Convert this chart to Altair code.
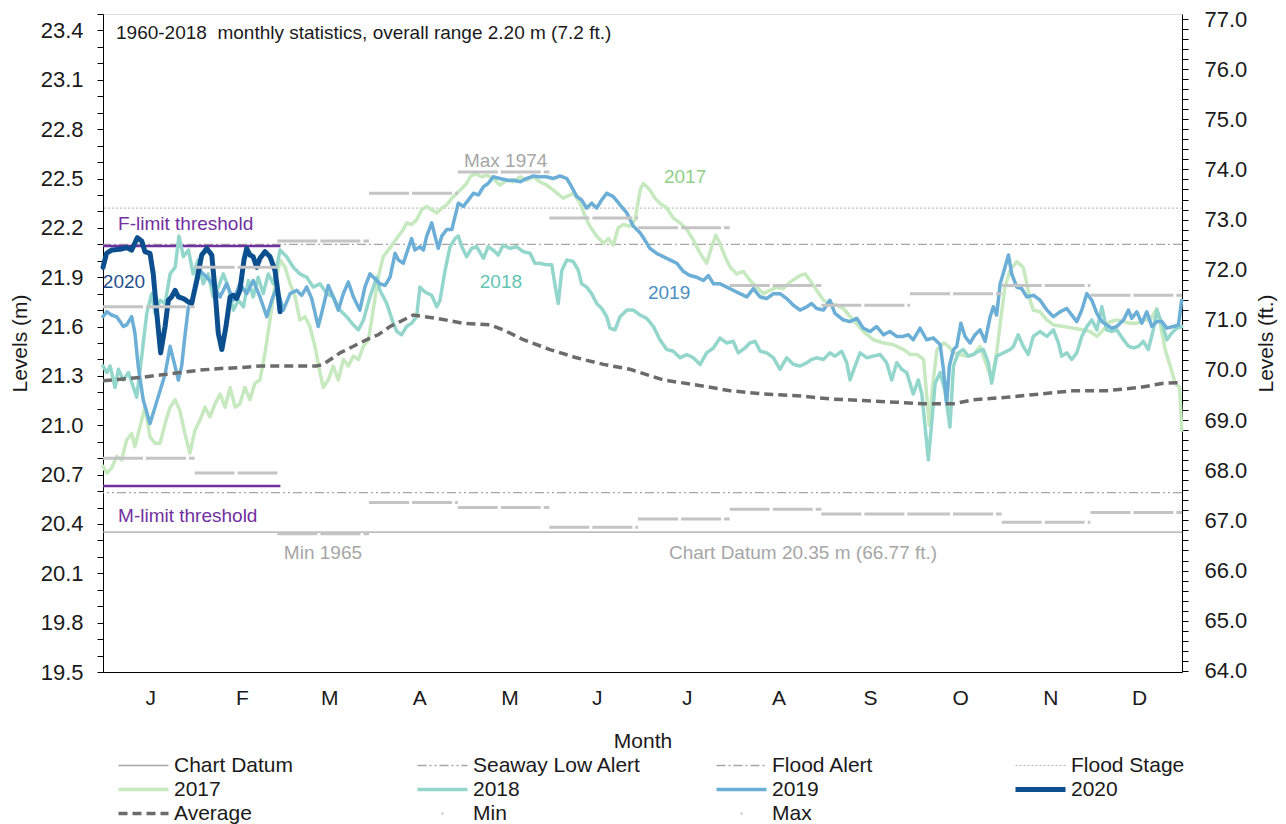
import altair as alt
import pandas as pd

# ---------------- data ----------------
month_letters = ["J", "F", "M", "A", "M", "J", "J", "A", "S", "O", "N", "D"]
month_label_days = [16, 47, 76.5, 107, 137.5, 167, 197.5, 228.5, 259.5, 290, 320.5, 350.5]
month_start = [0, 31, 59, 90, 120, 151, 181, 212, 243, 273, 304, 334]
month_end = [31, 59, 90, 120, 151, 181, 212, 243, 273, 304, 334, 365]
month_max = [21.72, 21.96, 22.12, 22.41, 22.54, 22.26, 22.20, 21.85, 21.73, 21.80, 21.85, 21.79]
month_min = [20.80, 20.71, 20.34, 20.53, 20.50, 20.38, 20.43, 20.49, 20.46, 20.46, 20.41, 20.47]

ref_names = ["Chart Datum", "Seaway Low Alert", "Flood Alert", "Flood Stage"]
ref_levels = [20.35, 20.59, 22.10, 22.32]

threshold_levels = [22.09, 20.63]
threshold_days = [0, 60]

s2017 = [(0, 20.75), (1.3, 20.71), (2.9, 20.74), (4.6, 20.81), (6.3, 20.79), (8.0, 20.91), (9.7, 20.95),
         (10.8, 20.87), (12.5, 20.99), (14.2, 21.11), (15.9, 20.93), (17.6, 20.89), (19.3, 20.89),
         (21.0, 21.01), (22.7, 21.11), (24.4, 21.155), (26.0, 21.09), (27.7, 20.95), (29.4, 20.83),
         (31.1, 20.97), (32.8, 21.03), (34.5, 21.11), (36.2, 21.05), (37.9, 21.13), (39.6, 21.19),
         (41.3, 21.11), (43.0, 21.23), (44.7, 21.11), (46.3, 21.13), (48.0, 21.23), (49.7, 21.155),
         (51.4, 21.255), (53.1, 21.275), (54.8, 21.44), (56.5, 21.64), (58.2, 21.86), (59.9, 22.005),
         (61.6, 21.96), (63.3, 21.86), (65.0, 21.78), (66.6, 21.64), (68.3, 21.66), (70.0, 21.60),
         (71.7, 21.48), (73.4, 21.32), (74.5, 21.23), (76.2, 21.275), (77.9, 21.36), (79.6, 21.275),
         (81.3, 21.40), (83.0, 21.36), (84.7, 21.42), (86.4, 21.40), (88.1, 21.48), (89.8, 21.52),
         (91.4, 21.70), (93.1, 21.90), (94.8, 22.025), (96.5, 22.065), (98.2, 22.105), (99.9, 22.15),
         (101.6, 22.19), (102.7, 22.23), (104.4, 22.22), (106.1, 22.25), (107.8, 22.31), (109.5, 22.33),
         (111.2, 22.31), (112.9, 22.29), (114.6, 22.32), (116.3, 22.34), (118.0, 22.38), (119.7, 22.41),
         (121.4, 22.44), (123.0, 22.47), (124.2, 22.51), (125.8, 22.53), (128.1, 22.51), (129.8, 22.52),
         (132.0, 22.50), (134.3, 22.46), (136.6, 22.49), (138.8, 22.48), (141.1, 22.51), (143.3, 22.49),
         (145.6, 22.51), (147.8, 22.48), (150.1, 22.46), (152.3, 22.43), (155.7, 22.38), (159.1, 22.41),
         (161.4, 22.35), (163.1, 22.27), (164.7, 22.21), (167.0, 22.15), (169.3, 22.105), (170.9, 22.135),
         (172.6, 22.095), (174.3, 22.20), (176.0, 22.22), (178.3, 22.21), (180.0, 22.25), (181.7, 22.43),
         (182.8, 22.47), (185.0, 22.43), (186.7, 22.38), (188.4, 22.35), (190.7, 22.32), (192.9, 22.26),
         (195.2, 22.23), (197.5, 22.19), (199.7, 22.125), (202.0, 22.045), (204.2, 21.985), (205.9, 22.085),
         (207.3, 22.155), (208.7, 22.105), (210.4, 22.025), (212.2, 21.96), (214.4, 21.92), (216.6, 21.935),
         (218.9, 21.88), (221.1, 21.84), (223.4, 21.80), (225.6, 21.82), (227.9, 21.84), (230.1, 21.83),
         (232.4, 21.87), (234.1, 21.89), (235.8, 21.91), (237.5, 21.92), (239.2, 21.88), (241.4, 21.82),
         (243.7, 21.76), (245.9, 21.74), (248.2, 21.73), (250.4, 21.71), (253.8, 21.64), (257.2, 21.57),
         (260.6, 21.52), (264.0, 21.50), (267.3, 21.49), (270.8, 21.46), (273.1, 21.43), (275.4, 21.43),
         (277.6, 21.40), (279.5, 21.00), (280.6, 21.23), (282.1, 21.46), (284.4, 21.50), (286.0, 21.48),
         (287.7, 21.44), (290.0, 21.43), (292.2, 21.42), (294.5, 21.43), (296.7, 21.48), (299.0, 21.36),
         (300.6, 21.275), (302.3, 21.44), (303.5, 21.62), (305.1, 21.84), (306.8, 21.94), (309.1, 21.995),
         (311.3, 21.96), (312.5, 21.86), (313.6, 21.76), (314.7, 21.70), (317.0, 21.69), (319.3, 21.64),
         (321.5, 21.61), (324.9, 21.60), (328.3, 21.59), (331.6, 21.58), (333.9, 21.57), (336.2, 21.54),
         (338.4, 21.58), (340.7, 21.63), (342.9, 21.64), (345.2, 21.63), (347.4, 21.62), (349.7, 21.62),
         (351.9, 21.64), (354.2, 21.64), (356.5, 21.71), (357.6, 21.62), (359.3, 21.46), (361.0, 21.36),
         (362.7, 21.255), (364.2, 21.23), (364.9, 20.97)]

s2018 = [(0, 21.36), (1.3, 21.32), (2.4, 21.36), (4.1, 21.23), (5.2, 21.34), (6.9, 21.275), (8.6, 21.32),
         (10.3, 21.23), (11.4, 21.17), (13.1, 21.42), (14.8, 21.68), (16.5, 21.80), (17.6, 21.68),
         (19.3, 21.76), (21.0, 21.74), (22.7, 21.92), (24.4, 21.96), (25.7, 22.15), (27.2, 22.025),
         (28.9, 22.065), (30.5, 21.92), (32.2, 22.005), (33.9, 21.86), (35.6, 21.92), (37.3, 21.78),
         (39.0, 21.84), (40.7, 21.92), (42.4, 21.84), (44.1, 21.70), (45.8, 21.76), (47.5, 21.72),
         (49.2, 21.88), (50.8, 21.78), (52.5, 21.90), (54.2, 21.80), (55.9, 21.92), (57.6, 21.86),
         (59.9, 22.065), (62.1, 22.025), (64.4, 21.96), (66.6, 21.92), (68.9, 21.90), (71.1, 21.84),
         (73.4, 21.86), (75.7, 21.80), (77.9, 21.78), (80.2, 21.70), (82.4, 21.66), (84.7, 21.61),
         (86.4, 21.58), (88.1, 21.64), (90.3, 21.78), (92.6, 21.90), (93.7, 21.82), (96.0, 21.74),
         (98.2, 21.62), (99.4, 21.57), (101.0, 21.55), (102.7, 21.60), (104.4, 21.62), (106.1, 21.66),
         (107.2, 21.84), (108.9, 21.81), (111.2, 21.79), (112.9, 21.72), (114.0, 21.76), (115.7, 21.94),
         (117.4, 22.085), (119.1, 22.135), (120.2, 22.15), (121.4, 22.085), (123.0, 22.025), (124.7, 22.075),
         (126.4, 22.085), (128.7, 22.015), (130.3, 22.085), (132.0, 22.065), (133.7, 22.035), (135.4, 22.095),
         (137.7, 22.075), (139.9, 22.085), (142.2, 22.055), (144.5, 22.045), (146.1, 21.985), (147.8, 21.985),
         (150.1, 21.975), (151.8, 21.975), (153.2, 21.82), (154.0, 21.74), (155.2, 21.94), (156.9, 22.005),
         (159.1, 21.995), (160.8, 21.94), (161.9, 21.86), (163.6, 21.84), (165.3, 21.80), (167.0, 21.74),
         (168.7, 21.71), (170.4, 21.66), (171.5, 21.59), (173.2, 21.58), (174.9, 21.66), (177.2, 21.70),
         (179.4, 21.70), (181.7, 21.67), (183.9, 21.65), (186.2, 21.60), (188.4, 21.52), (190.7, 21.46),
         (192.9, 21.45), (195.2, 21.41), (197.5, 21.43), (199.7, 21.41), (202.0, 21.37), (204.2, 21.44),
         (206.5, 21.47), (208.7, 21.53), (211.0, 21.50), (213.2, 21.51), (214.9, 21.44), (217.2, 21.47),
         (218.8, 21.50), (220.6, 21.51), (222.3, 21.45), (224.5, 21.44), (226.8, 21.41), (229.0, 21.34),
         (231.3, 21.41), (233.5, 21.37), (235.8, 21.36), (238.1, 21.38), (239.7, 21.40), (241.4, 21.41),
         (243.7, 21.40), (245.9, 21.44), (247.6, 21.42), (249.9, 21.45), (251.6, 21.38), (252.7, 21.275),
         (254.4, 21.36), (256.1, 21.44), (258.4, 21.41), (260.6, 21.42), (262.9, 21.43), (265.1, 21.38),
         (266.8, 21.275), (268.5, 21.38), (270.2, 21.34), (271.9, 21.32), (274.1, 21.19), (275.8, 21.275),
         (277.0, 21.19), (278.1, 20.99), (279.2, 20.79), (280.4, 21.03), (281.5, 21.255), (283.2, 21.32),
         (284.8, 21.21), (286.5, 20.99), (287.7, 21.36), (289.3, 21.44), (291.0, 21.46), (292.7, 21.42),
         (294.4, 21.43), (296.1, 21.45), (297.8, 21.46), (299.5, 21.38), (300.6, 21.255), (302.3, 21.42),
         (304.6, 21.44), (306.8, 21.46), (308.0, 21.48), (309.6, 21.55), (311.3, 21.48), (313.0, 21.43),
         (314.7, 21.54), (317.0, 21.57), (319.3, 21.54), (321.5, 21.58), (323.2, 21.50), (324.3, 21.42),
         (326.0, 21.44), (327.7, 21.40), (329.4, 21.44), (331.1, 21.54), (332.8, 21.60), (334.5, 21.64),
         (336.2, 21.58), (337.9, 21.72), (339.5, 21.58), (341.2, 21.57), (342.9, 21.58), (345.2, 21.52),
         (346.9, 21.48), (348.6, 21.47), (350.3, 21.48), (351.9, 21.51), (353.6, 21.46), (355.3, 21.58),
         (356.5, 21.70), (358.2, 21.62), (359.9, 21.52), (361.5, 21.56), (363.2, 21.59), (364.9, 21.60)]

s2019 = [(0, 21.66), (1.3, 21.69), (2.9, 21.67), (4.6, 21.66), (5.8, 21.63), (6.9, 21.60), (8.0, 21.61),
         (9.7, 21.66), (10.8, 21.56), (11.9, 21.36), (13.6, 21.155), (15.9, 21.01), (17.6, 21.11),
         (19.3, 21.21), (21.0, 21.31), (22.7, 21.48), (23.8, 21.40), (25.5, 21.275), (26.6, 21.36),
         (27.7, 21.54), (28.9, 21.72), (30.5, 21.78), (32.8, 21.94), (36.2, 21.88), (39.6, 21.78),
         (41.8, 21.86), (44.1, 21.76), (46.3, 21.86), (48.6, 21.80), (50.8, 21.88), (53.1, 21.78),
         (55.4, 21.66), (57.1, 21.76), (58.8, 21.84), (61.0, 21.70), (63.3, 21.80), (65.5, 21.82),
         (67.2, 21.79), (68.9, 21.84), (70.6, 21.77), (72.8, 21.60), (74.5, 21.72), (76.2, 21.85),
         (77.9, 21.78), (79.6, 21.70), (81.3, 21.80), (83.0, 21.87), (84.7, 21.78), (86.9, 21.70),
         (88.6, 21.84), (90.3, 21.92), (92.0, 21.89), (93.7, 21.86), (95.4, 21.85), (97.1, 21.90),
         (98.8, 22.045), (99.9, 22.005), (101.6, 21.985), (102.7, 22.045), (104.4, 22.135), (105.5, 22.065),
         (107.2, 22.085), (108.4, 22.065), (109.5, 22.15), (111.2, 22.23), (112.3, 22.15), (113.4, 22.075),
         (114.6, 22.15), (116.3, 22.19), (118.0, 22.19), (119.1, 22.27), (120.2, 22.35), (121.9, 22.33),
         (123.6, 22.37), (125.3, 22.41), (127.0, 22.40), (128.7, 22.45), (130.3, 22.47), (132.0, 22.51),
         (134.3, 22.50), (136.6, 22.49), (138.8, 22.49), (141.1, 22.48), (143.3, 22.50), (145.6, 22.515),
         (147.8, 22.51), (150.1, 22.51), (152.3, 22.50), (154.6, 22.515), (156.9, 22.50), (158.5, 22.45),
         (160.3, 22.39), (161.9, 22.37), (163.6, 22.32), (165.3, 22.35), (167.0, 22.32), (168.7, 22.37),
         (170.4, 22.41), (172.6, 22.39), (174.9, 22.34), (177.2, 22.29), (179.4, 22.21), (181.7, 22.17),
         (182.8, 22.14), (185.0, 22.075), (187.3, 22.045), (189.5, 22.025), (191.8, 22.005), (194.1, 21.985),
         (196.3, 21.935), (198.6, 21.91), (200.8, 21.90), (203.1, 21.88), (204.8, 21.91), (206.5, 21.86),
         (208.7, 21.86), (211.0, 21.84), (213.2, 21.82), (215.5, 21.80), (217.8, 21.78), (220.0, 21.83),
         (222.3, 21.78), (224.5, 21.77), (226.8, 21.80), (229.0, 21.80), (231.3, 21.77), (233.5, 21.73),
         (235.8, 21.70), (238.1, 21.72), (239.7, 21.74), (241.4, 21.71), (243.7, 21.70), (245.9, 21.76),
         (247.6, 21.68), (250.4, 21.64), (252.7, 21.63), (255.0, 21.65), (257.2, 21.59), (259.5, 21.57),
         (261.7, 21.60), (264.0, 21.55), (266.2, 21.57), (268.5, 21.54), (270.7, 21.54), (272.4, 21.55),
         (274.1, 21.52), (276.4, 21.59), (278.6, 21.52), (280.9, 21.53), (283.2, 21.49), (284.3, 21.34),
         (285.4, 21.13), (286.3, 21.36), (287.7, 21.46), (288.8, 21.48), (290.2, 21.62), (291.6, 21.54),
         (293.3, 21.50), (295.0, 21.55), (296.7, 21.58), (298.4, 21.51), (300.1, 21.66), (301.2, 21.72),
         (302.3, 21.67), (303.5, 21.86), (304.8, 21.94), (306.3, 22.035), (307.4, 21.92), (309.1, 21.84),
         (310.8, 21.83), (312.5, 21.78), (314.8, 21.79), (317.0, 21.76), (319.3, 21.70), (321.5, 21.66),
         (323.8, 21.69), (326.0, 21.71), (327.7, 21.67), (329.4, 21.63), (331.1, 21.70), (332.8, 21.80),
         (334.5, 21.76), (336.2, 21.68), (337.9, 21.63), (339.5, 21.61), (341.2, 21.59), (342.9, 21.60),
         (345.2, 21.64), (346.9, 21.70), (348.0, 21.65), (349.7, 21.69), (351.4, 21.62), (353.1, 21.69),
         (354.8, 21.60), (356.5, 21.63), (358.2, 21.63), (359.9, 21.59), (362.1, 21.60), (363.8, 21.61),
         (364.9, 21.76)]

s2020 = [(0, 21.96), (1.2, 22.045), (2.9, 22.065), (5.8, 22.07), (8.0, 22.08), (9.7, 22.065), (11.6, 22.14),
         (13.1, 22.12), (14.2, 22.055), (15.9, 22.045), (17.0, 21.92), (18.2, 21.68), (19.5, 21.44),
         (21.0, 21.60), (22.1, 21.76), (23.2, 21.78), (24.4, 21.82), (25.5, 21.78), (27.2, 21.77),
         (28.9, 21.75), (30.0, 21.74), (31.7, 21.88), (33.4, 22.035), (35.1, 22.075), (36.8, 22.035),
         (37.9, 21.82), (39.0, 21.56), (40.2, 21.46), (41.6, 21.60), (43.0, 21.78), (44.1, 21.79),
         (45.2, 21.77), (46.3, 21.82), (47.7, 22.005), (48.6, 22.075), (49.7, 22.035), (50.8, 22.025),
         (52.0, 21.96), (53.1, 22.015), (54.8, 22.055), (56.5, 22.025), (58.2, 21.94), (59.1, 21.82),
         (59.9, 21.69)]

avg = [(0, 21.27), (5.8, 21.28), (12.5, 21.29), (19.3, 21.305), (26.0, 21.32), (32.8, 21.335),
       (39.6, 21.345), (46.3, 21.35), (53.1, 21.36), (62.1, 21.36), (72.3, 21.36), (74.5, 21.37),
       (80.2, 21.44), (86.9, 21.50), (90.3, 21.53), (93.1, 21.55), (97.1, 21.60), (105.0, 21.67),
       (112.9, 21.65), (121.9, 21.62), (130.9, 21.61), (135.4, 21.58), (142.2, 21.52), (151.2, 21.46),
       (160.2, 21.41), (169.3, 21.37), (178.3, 21.34), (189.6, 21.275), (200.8, 21.245), (212.1, 21.21),
       (223.4, 21.19), (234.7, 21.18), (245.9, 21.16), (257.2, 21.15), (268.5, 21.14), (277.5, 21.13),
       (287.6, 21.13), (294.4, 21.155), (305.7, 21.17), (317.0, 21.19), (328.3, 21.21), (339.6, 21.21),
       (350.8, 21.23), (358.7, 21.255), (364.9, 21.26)]

left_ticks = [round(19.5 + 0.1 * i, 1) for i in range(41)]
right_ticks = [round(64 + 0.2 * i, 1) for i in range(66)]
M_PER_FT = 0.3048

ann_left_text = ["1960-2018\u00a0 monthly statistics, overall range 2.20 m (7.2 ft.)",
                 "F-limit threshold", "M-limit threshold"]
ann_left_day = [4.4, 5.1, 5.1]
ann_left_level = [23.385, 22.223, 20.448]
ann_left_color = ["#1a1a1a", "#7030a0", "#7030a0"]

ann_text = ["2020", "Max 1974", "2017", "2018", "2019", "Min 1965", "Chart Datum 20.35 m (66.77 ft.)"]
ann_day = [7.1, 136.2, 196.9, 134.6, 191.5, 74.4, 236.8]
ann_level = [21.871, 22.606, 22.509, 21.871, 21.804, 20.223, 20.223]
ann_color = ["#1f4e8c", "#a6a6a6", "#8fd18a", "#62c4b4", "#4a90c2", "#a6a6a6", "#a6a6a6"]

# ---------------- styling ----------------
series_style = {
    "Chart Datum": ("#a6a6a6", [1, 0], 1.3),
    "Seaway Low Alert": ("#a6a6a6", [9, 3, 2, 3, 2, 3], 1.3),
    "Flood Alert": ("#a6a6a6", [9, 3, 2, 3], 1.3),
    "Flood Stage": ("#b4b4b4", [2, 2], 1.0),
    "2017": ("#c7e9c0", [1, 0], 3.5),
    "2018": ("#93d6cb", [1, 0], 3.5),
    "2019": ("#6baed6", [1, 0], 3.5),
    "2020": ("#0b4f8f", [1, 0], 5.0),
    "Average": ("#6b6b6b", [9, 5], 3.5),
    "Min": ("#bfbfbf", [0, 24, 2, 100], 2.0),
    "Max": ("#bfbfbf", [0, 24, 2, 100], 2.0),
}
# legend fills column by column (3 rows x 4 columns)
legend_order = ["Chart Datum", "2017", "Average",
                "Seaway Low Alert", "2018", "Min",
                "Flood Alert", "2019", "Max",
                "Flood Stage", "2020"]
series_colors = [series_style[s][0] for s in legend_order]
series_dash = [series_style[s][1] for s in legend_order]
series_width = [series_style[s][2] for s in legend_order]

FONT = "Liberation Sans"
X_SCALE = alt.Scale(domain=[0, 365], nice=False, zero=False)
Y_SCALE = alt.Scale(domain=[19.5, 23.5], nice=False, zero=False)
FT_SCALE = alt.Scale(domain=[19.5 / M_PER_FT, 23.5 / M_PER_FT], nice=False, zero=False)

label_expr_x = ""
for end, letter in zip(month_end[:-1], month_letters[:-1]):
    label_expr_x += f"datum.value < {end} ? '{letter}' : "
label_expr_x += f"'{month_letters[-1]}'"

x_axis = alt.Axis(title="Month", values=month_label_days, labelExpr=label_expr_x, ticks=False,
                  grid=False, labelFontSize=21, titleFontSize=21, titleFontWeight="normal",
                  labelPadding=15, titlePadding=22, domainColor="black", labelColor="#1a1a1a",
                  titleColor="#1a1a1a", labelFont=FONT, titleFont=FONT)
y_axis = alt.Axis(title="Levels (m)", values=left_ticks,
                  labelExpr="(round(datum.value*10) - 195) % 3 == 0 ? format(datum.value, '.1f') : ''",
                  tickSize=6, labelPadding=14, labelFontSize=22, titleFontSize=21,
                  titleFontWeight="normal", grid=False, domainColor="black", tickColor="black",
                  labelColor="#1a1a1a", titleColor="#1a1a1a", titlePadding=10, labelOverlap=False,
                  labelFont=FONT, titleFont=FONT)
ft_axis = alt.Axis(title="Levels (ft.)", orient="right", values=right_ticks,
                   labelExpr="round(datum.value*5) % 5 == 0 ? format(datum.value, '.1f') : ''",
                   tickSize=6, labelPadding=16, labelFontSize=22, titleFontSize=21,
                   titleFontWeight="normal", grid=False, domainColor="black", tickColor="black",
                   labelColor="#1a1a1a", titleColor="#1a1a1a", titlePadding=9, titleAngle=270,
                   titleBaseline="top", labelOverlap=False, labelFont=FONT, titleFont=FONT)

legend = alt.Legend(orient="none", legendX=13, legendY=741, columns=4, columnPadding=72,
                    rowPadding=2, clipHeight=21, symbolSize=2500, labelFontSize=21,
                    labelColor="#1a1a1a", title=None, gridAlign="all", symbolType="stroke",
                    padding=0, labelOffset=3, labelLimit=400, labelFont=FONT)


def X(field="day"):
    return alt.X(f"{field}:Q", scale=X_SCALE, axis=x_axis)


def Y(field="level"):
    return alt.Y(f"{field}:Q", scale=Y_SCALE, axis=y_axis)


def style_enc():
    return dict(
        color=alt.Color("series:N", scale=alt.Scale(domain=legend_order, range=series_colors), legend=legend),
        strokeDash=alt.StrokeDash("series:N", scale=alt.Scale(domain=legend_order, range=series_dash), legend=legend),
        strokeWidth=alt.StrokeWidth("series:N", scale=alt.Scale(type="ordinal", domain=legend_order, range=series_width), legend=legend),
    )


# ---------------- layers ----------------
ref_df = pd.DataFrame({"series": ref_names, "level": ref_levels})
refs = alt.Chart(ref_df).mark_rule().encode(y=Y(), **style_enc())

thr_df = pd.DataFrame({"day": [threshold_days[0]] * 2, "day2": [threshold_days[1]] * 2,
                       "level": threshold_levels})
thresholds = alt.Chart(thr_df).mark_rule(color="#7030a0", strokeWidth=2.5).encode(
    x=X(), x2="day2:Q", y=Y())


def year_layer(name, pairs):
    df = pd.DataFrame(pairs, columns=["day", "level"])
    df["series"] = name
    return alt.Chart(df).mark_line(strokeJoin="round", strokeCap="round").encode(
        x=X(), y=Y(), order="day:Q", **style_enc())


lines = [year_layer("2017", s2017), year_layer("2018", s2018),
         year_layer("2019", s2019), year_layer("2020", s2020)]

avg_df = pd.DataFrame(avg, columns=["day", "level"])
avg_df["series"] = "Average"
avg_layer = alt.Chart(avg_df).mark_line().encode(x=X(), y=Y(), order="day:Q", **style_enc())

mm_df = pd.DataFrame({"day": month_start + month_start, "day2": month_end + month_end,
                      "level": month_min + month_max})
minmax = alt.Chart(mm_df).mark_rule(color="#c4c4c4", strokeWidth=3, strokeDash=[40, 3]).encode(
    x=X(), x2="day2:Q", y=Y())

annl_df = pd.DataFrame({"text": ann_left_text, "day": ann_left_day, "level": ann_left_level,
                        "c": ann_left_color})
ann_left = alt.Chart(annl_df).mark_text(align="left", baseline="middle", fontSize=19, font=FONT).encode(
    x=X(), y=Y(), text="text:N", fill=alt.Fill("c:N", scale=None))

ann_df = pd.DataFrame({"text": ann_text, "day": ann_day, "level": ann_level, "c": ann_color})
ann_center = alt.Chart(ann_df).mark_text(align="center", baseline="middle", fontSize=19, font=FONT).encode(
    x=X(), y=Y(), text="text:N", fill=alt.Fill("c:N", scale=None))

meters = alt.layer(refs, thresholds, *lines, avg_layer, minmax, ann_left, ann_center)

ft_df = pd.DataFrame({"ft": [64.0, 77.0]})
feet = alt.Chart(ft_df).mark_rule(opacity=0).encode(
    y=alt.Y("ft:Q", scale=FT_SCALE, axis=ft_axis))

chart = alt.layer(meters, feet).resolve_scale(y="independent").properties(
    width=1079, height=658,
    padding={"left": 95, "top": 6, "right": 96, "bottom": 152},
    autosize=alt.AutoSizeParams(type="none"),
).configure_view(stroke="black", strokeWidth=1).configure(font=FONT, background="white")

chart.save("out.html", embed_options={"renderer": "svg", "actions": False})
